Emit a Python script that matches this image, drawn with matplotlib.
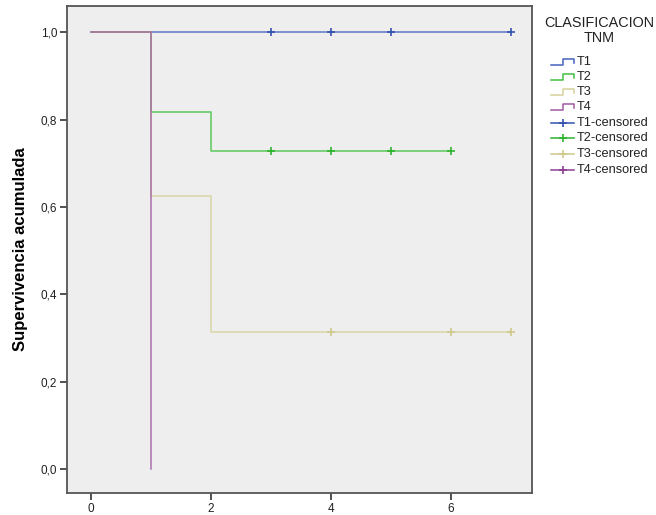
import matplotlib
matplotlib.use("Agg")
import matplotlib.pyplot as plt
from matplotlib.lines import Line2D

plt.rcParams['font.family'] = ['Liberation Sans', 'DejaVu Sans']

# Kaplan-Meier step curves (time, cumulative survival)
t1_time = [0, 7]
t1_surv = [1.0, 1.0]
t1_cens_time = [3, 4, 5, 7]
t1_cens_surv = [1.0, 1.0, 1.0, 1.0]

t2_time = [0, 1, 2, 6]
t2_surv = [1.0, 0.818, 0.727, 0.727]
t2_cens_time = [3, 4, 5, 6]
t2_cens_surv = [0.727, 0.727, 0.727, 0.727]

t3_time = [0, 1, 2, 7]
t3_surv = [1.0, 0.625, 0.3125, 0.3125]
t3_cens_time = [4, 6, 7]
t3_cens_surv = [0.3125, 0.3125, 0.3125]

t4_time = [0, 1]
t4_surv = [1.0, 0.0]

groups = ["T1", "T2", "T3", "T4"]
colors = ["#4763bd", "#44bf44", "#d6d19c", "#a05aa4"]
cens_colors = ["#3352b0", "#2fb32f", "#cfc88a", "#8e3f93"]

x_ticks = [0, 2, 4, 6]
y_ticks = [0.0, 0.2, 0.4, 0.6, 0.8, 1.0]
y_labels = ["0,0", "0,2", "0,4", "0,6", "0,8", "1,0"]

W, H = 656, 515
fig = plt.figure(figsize=(W / 100, H / 100), dpi=100)
ax = fig.add_axes([67 / W, 1 - 493 / H, (532 - 67) / W, (493 - 6) / H])
ax.set_facecolor("#eeeeee")

curves = [(t1_time, t1_surv), (t2_time, t2_surv), (t3_time, t3_surv), (t4_time, t4_surv)]
cens = [(t1_cens_time, t1_cens_surv), (t2_cens_time, t2_cens_surv),
        (t3_cens_time, t3_cens_surv), ([], [])]

for (t, s), c in zip(curves, colors):
    ax.step(t, s, where="post", color=c, lw=1.1, alpha=0.85, zorder=3)
for (t, s), c in zip(cens, cens_colors):
    if t:
        ax.plot(t, s, ls="none", marker="+", ms=6, mew=1.2, color=c, zorder=4)

ax.set_xlim(-0.4, 7.35)
ax.set_ylim(-0.055, 1.06)
ax.set_xticks(x_ticks)
ax.set_xticklabels([str(v) for v in x_ticks])
ax.set_yticks(y_ticks)
ax.set_yticklabels(y_labels)
ax.tick_params(axis="both", direction="out", length=5, width=1.2, color="#333333",
               labelsize=8.5, labelcolor="#222222", pad=2)
for sp in ax.spines.values():
    sp.set_color("#555555")
    sp.set_linewidth(1.3)

ax.set_ylabel("Supervivencia acumulada", fontsize=12, fontweight="bold", labelpad=9)

# Legend drawn in figure pixel coordinates
def fx(px):
    return px / W

def fy(py):
    return 1 - py / H

fig.text(fx(599), fy(23), "CLASIFICACION", ha="center", va="center", fontsize=10.4, color="#222222")
fig.text(fx(599), fy(38), "TNM", ha="center", va="center", fontsize=10.4, color="#222222")

row_y = [62, 77, 92, 107, 123, 138, 154, 170]
labels = groups + [g + "-censored" for g in groups]
for i, (lab, y) in enumerate(zip(labels, row_y)):
    if i < 4:
        c = colors[i]
        xs = [551, 563, 563, 574, 574]
        ys = [y + 3, y + 3, y - 3, y - 3, y + 1]
        fig.add_artist(Line2D([fx(v) for v in xs], [fy(v) for v in ys], color=c, lw=1.1,
                              transform=fig.transFigure))
    else:
        c = cens_colors[i - 4]
        fig.add_artist(Line2D([fx(551), fx(574)], [fy(y), fy(y)], color=c, lw=1.1,
                              transform=fig.transFigure))
        fig.add_artist(Line2D([fx(562.5)], [fy(y)], color=c, marker="+", ms=6, mew=1.2,
                              ls="none", transform=fig.transFigure))
    fig.text(fx(577), fy(y), lab, ha="left", va="center", fontsize=9.2, color="#222222")

fig.savefig("out.png", dpi=100, facecolor="white")
